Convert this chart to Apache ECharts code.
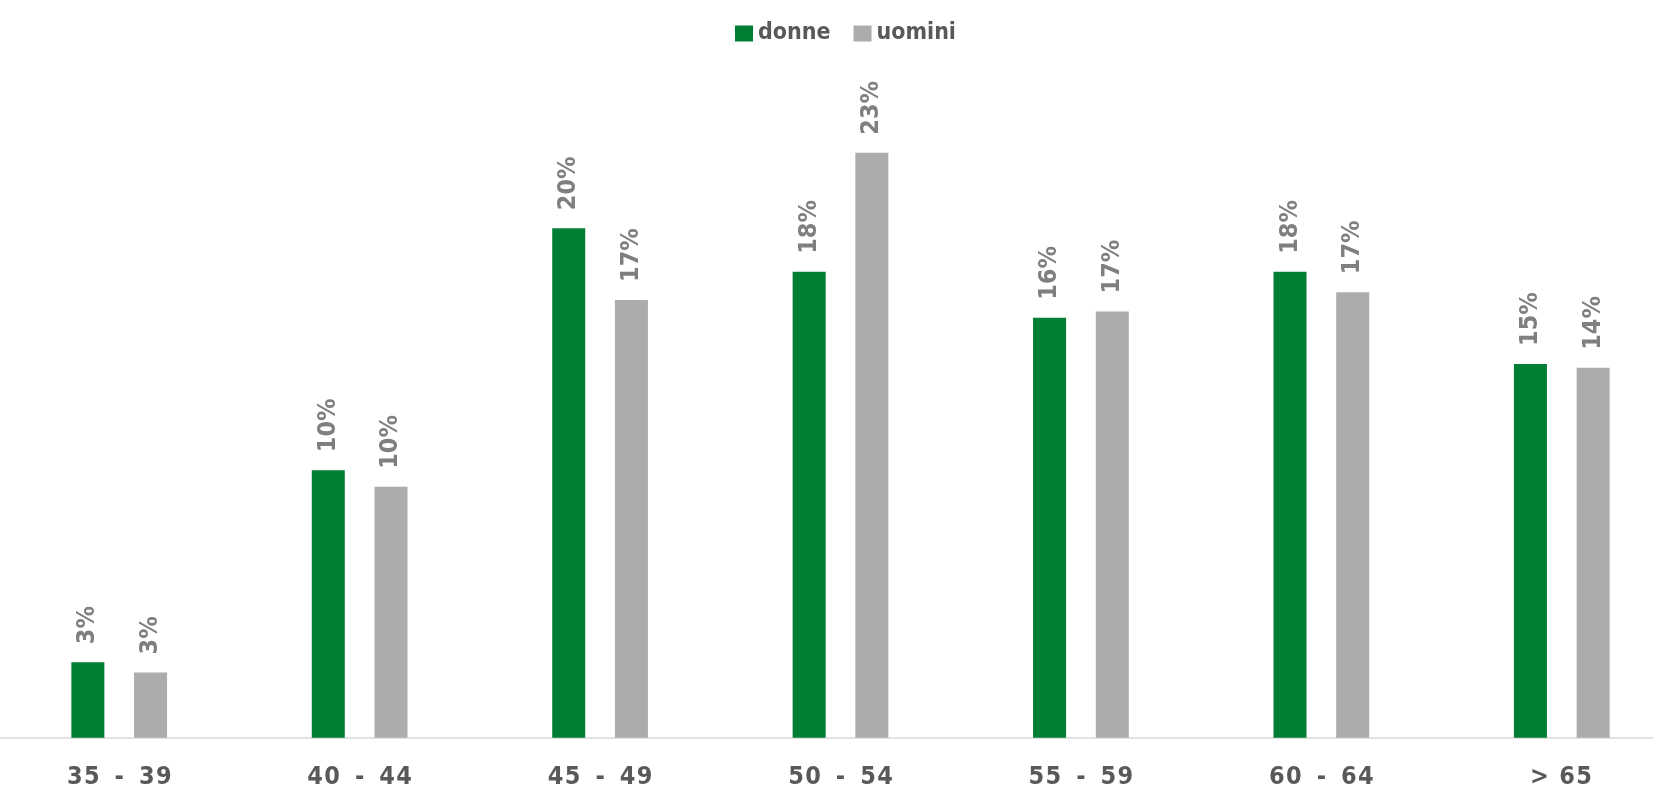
<!DOCTYPE html>
<html>
<head>
<meta charset="utf-8">
<script src="https://cdn.jsdelivr.net/npm/echarts@6/dist/echarts.min.js"></script>
<style>
  html, body { margin: 0; padding: 0; background: #ffffff; }
  #chart { width: 1653px; height: 787px; }
</style>
</head>
<body>
<div id="chart"></div>
<script>
// ---- data ----
const categories = ['35 - 39', '40 - 44', '45 - 49', '50 - 54', '55 - 59', '60 - 64', '> 65'];
const seriesNames = ['donne', 'uomini'];
const donne = [2.95, 10.45, 19.9, 18.2, 16.4, 18.2, 14.6];
const uomini = [2.55, 9.8, 17.1, 22.85, 16.65, 17.4, 14.45];

// ---- chart ----
const FONT = "'DejaVu Sans Condensed', 'DejaVu Sans', sans-serif";
const chart = echarts.init(document.getElementById('chart'));

function spaced(label) {
  // draw each character in its own fixed box to mimic the wide letter spacing
  return label.split('').map(function (ch) {
    return ch === ' ' ? '{s| }' : '{d|' + ch + '}';
  }).join('');
}

const labelStyle = {
  show: true,
  position: 'top',
  rotate: 90,
  align: 'left',
  verticalAlign: 'middle',
  distance: 18,
  color: '#7f7f7f',
  fontFamily: FONT,
  fontWeight: 'bold',
  fontSize: 25,
  formatter: function (p) { return Math.round(p.value) + '%'; }
};

chart.setOption({
  animation: false,
  backgroundColor: '#ffffff',
  legend: {
    data: seriesNames,
    left: 730,
    top: 17,
    icon: 'rect',
    itemWidth: 18,
    itemHeight: 16,
    itemGap: 23,
    textStyle: {
      color: '#595959',
      fontFamily: FONT,
      fontWeight: 'bold',
      fontSize: 23
    }
  },
  grid: {
    left: -1,
    right: -29,
    top: 97.7,
    bottom: 49.3,
    containLabel: false,
    outerBoundsMode: 'none'
  },
  xAxis: {
    type: 'category',
    data: categories,
    axisLine: { show: true, lineStyle: { color: '#d9d9d9', width: 1.5 } },
    axisTick: { show: false },
    axisLabel: {
      interval: 0,
      margin: 27,
      color: '#595959',
      fontFamily: FONT,
      fontWeight: 'bold',
      fontSize: 25,
      formatter: spaced,
      rich: {
        d: { width: 17, align: 'center', color: '#595959', fontFamily: FONT, fontWeight: 'bold', fontSize: 25 },
        s: { width: 10.5, align: 'center', color: '#595959', fontFamily: FONT, fontWeight: 'bold', fontSize: 25 }
      }
    }
  },
  yAxis: {
    type: 'value',
    min: 0,
    max: 25,
    show: false,
    splitLine: { show: false }
  },
  series: [
    {
      name: seriesNames[0],
      type: 'bar',
      data: donne,
      barWidth: 33,
      barGap: '90%',
      itemStyle: { color: '#007e33' },
      label: labelStyle
    },
    {
      name: seriesNames[1],
      type: 'bar',
      data: uomini,
      barWidth: 33,
      barGap: '90%',
      itemStyle: { color: '#aeabab' },
      label: labelStyle
    }
  ]
});
</script>
</body>
</html>
